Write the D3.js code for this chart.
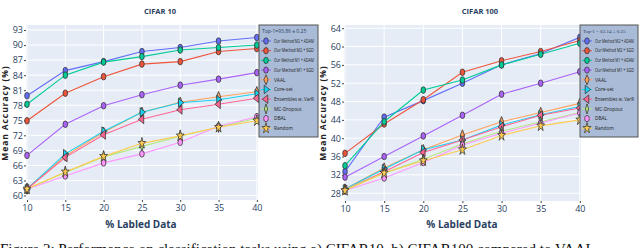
<!DOCTYPE html>
<html>
<head>
<meta charset="utf-8">
<script src="https://cdn.jsdelivr.net/npm/d3@7"></script>
<style>
  body { margin: 0; background: #fff; }
  svg { display: block; }
</style>
</head>
<body>
<div id="chart"></div>
<script>
const W = 640, H = 248;

const labeled = [10, 15, 20, 25, 30, 35, 40];
const methods = ['Our Method M2 + ADAM', 'Our Method M2 + SGD', 'Our Method M1 + ADAM', 'Our Method M1 + SGD',
  'VAAL', 'Core-set', 'Ensembles w. VarR', 'MC-Dropout', 'DBAL', 'Random'];
const colors = ['#636efa', '#ef553b', '#00cc96', '#ab63fa', '#ffa15a', '#19d3f3', '#ff6692', '#b6e880', '#ff97ff', '#fecb52'];
const shapes = ['circle', 'circle', 'circle', 'circle', 'diamond', 'tri-right', 'tri-left', 'thin-diamond', 'circle', 'star'];

// CIFAR 10
const cifar10 = [
  [79.9, 84.9, 86.7, 88.7, 89.5, 90.8, 91.5],
  [74.9, 80.4, 83.7, 86.2, 86.7, 88.7, 89.3],
  [78.2, 84.0, 86.6, 87.7, 89.0, 89.5, 90.0],
  [68.0, 74.2, 77.9, 80.1, 82.0, 83.2, 84.5],
  [61.3, 67.9, 72.6, 76.6, 78.6, 79.7, 80.7],
  [61.3, 68.3, 72.8, 76.6, 78.5, 79.1, 80.3],
  [61.3, 67.6, 72.1, 75.2, 77.1, 78.2, 79.4],
  [61.3, 64.6, 67.7, 69.8, 71.8, 73.6, 75.4],
  [61.3, 63.9, 66.5, 68.3, 70.6, 73.8, 75.7],
  [61.3, 64.7, 67.8, 70.4, 71.9, 73.6, 74.9]
];
const ticks10 = [60, 63, 66, 69, 72, 75, 78, 81, 84, 87, 90, 93];

// CIFAR 100
const cifar100 = [
  [32.7, 44.6, 48.2, 52.0, 56.0, 58.5, 62.0],
  [36.7, 43.1, 48.4, 54.4, 56.9, 58.9, 61.3],
  [34.0, 43.6, 50.5, 52.7, 56.0, 58.3, 60.7],
  [31.5, 36.0, 40.5, 45.0, 49.6, 52.0, 54.5],
  [28.9, 33.5, 37.5, 40.7, 43.6, 45.6, 47.6],
  [28.9, 33.3, 37.5, 39.6, 42.9, 45.1, 46.9],
  [28.8, 32.7, 36.9, 39.6, 42.5, 45.0, 46.6],
  [28.8, 32.4, 35.4, 38.8, 41.5, 43.6, 45.6],
  [28.6, 31.3, 34.7, 38.5, 41.1, 43.3, 45.5],
  [28.6, 32.4, 35.1, 37.5, 40.6, 42.7, 44.0]
];
const ticks100 = [28, 32, 36, 40, 44, 48, 52, 56, 60, 64];

const svg = d3.select('#chart').append('svg')
  .attr('width', W).attr('height', H);

function markerPath(shape) {
  if (shape === 'circle') return d3.symbol(d3.symbolCircle, 26)();
  if (shape === 'diamond') return d3.symbol(d3.symbolDiamond, 24)();
  if (shape === 'thin-diamond') return 'M0,-4.5L2,0L0,4.5L-2,0Z';
  if (shape === 'star') return d3.symbol(d3.symbolStar, 30)();
  return d3.symbol(d3.symbolTriangle, 26)();
}
function markerRotate(shape) {
  if (shape === 'tri-right') return 90;
  if (shape === 'tri-left') return -90;
  return 0;
}

// legend text, squeezed sideways if it would be wider than maxW
function legendText(parent, x, y, str, font, size, fill, maxW) {
  const tg = parent.append('g').attr('transform', `translate(${x},${y})`);
  const t = tg.append('text')
    .style('font-family', font).style('font-size', size)
    .attr('fill', fill)
    .text(str);
  const w = t.node().getComputedTextLength();
  if (w > maxW) tg.attr('transform', `translate(${x},${y}) scale(${maxW / w},1)`);
}

function drawPanel(opt) {
  const x = d3.scaleLinear().domain([9.87, 40.15]).range([opt.left, opt.right]);
  const y = d3.scaleLinear().domain(opt.yDomain).range([opt.bottom, opt.top]);
  const g = svg.append('g');

  g.append('rect')
    .attr('x', opt.left).attr('y', opt.top)
    .attr('width', opt.right - opt.left).attr('height', opt.bottom - opt.top)
    .attr('fill', '#e5ecf6');

  // grid
  g.selectAll('.gy').data(opt.ticks).enter().append('line')
    .attr('x1', opt.left).attr('x2', opt.right)
    .attr('y1', d => y(d)).attr('y2', d => y(d))
    .attr('stroke', '#fff').attr('stroke-width', 1);
  g.selectAll('.gx').data(labeled).enter().append('line')
    .attr('x1', d => x(d)).attr('x2', d => x(d))
    .attr('y1', opt.top).attr('y2', opt.bottom)
    .attr('stroke', '#fff').attr('stroke-width', 1);

  // axes
  const yAxis = g.append('g')
    .attr('transform', `translate(${opt.left},0)`)
    .call(d3.axisLeft(y).tickValues(opt.ticks).tickSize(2).tickPadding(1));
  const xAxis = g.append('g')
    .attr('transform', `translate(0,${opt.bottom})`)
    .call(d3.axisBottom(x).tickValues(labeled).tickSize(2).tickPadding(3));
  [xAxis, yAxis].forEach(a => {
    a.select('.domain').remove();
    a.selectAll('line').attr('stroke', '#444');
    a.selectAll('text').attr('fill', '#2a3f5f')
      .style('font-family', '"Open Sans", sans-serif').style('font-size', '9px');
  });

  // lines
  const line = d3.line().x((d, i) => x(labeled[i])).y(d => y(d));
  opt.data.forEach((s, k) => {
    g.append('path').datum(s)
      .attr('d', line)
      .attr('fill', 'none')
      .attr('stroke', colors[k]).attr('stroke-width', 1.1);
  });
  opt.data.forEach((s, k) => {
    g.selectAll(null).data(s).enter().append('path')
      .attr('d', markerPath(shapes[k]))
      .attr('transform', (d, i) => `translate(${x(labeled[i])},${y(d)}) scale(0.8,1.15) rotate(${markerRotate(shapes[k])})`)
      .attr('fill', colors[k])
      .attr('stroke', '#333').attr('stroke-width', 0.8);
  });

  // titles
  g.append('text')
    .attr('x', opt.titleX).attr('y', 14)
    .attr('text-anchor', 'middle')
    .style('font-family', '"Open Sans", sans-serif').style('font-size', '7.5px').style('font-weight', 'bold')
    .attr('fill', '#2a3f5f')
    .text(opt.title);
  g.append('text')
    .attr('x', opt.xLabelX).attr('y', 228)
    .attr('text-anchor', 'middle')
    .style('font-family', '"Open Sans", sans-serif').style('font-size', '10px').style('font-weight', 'bold')
    .attr('fill', '#2a3f5f')
    .text('% Labled Data');
  g.append('text')
    .attr('transform', `translate(${opt.yLabelX},${113}) rotate(-90)`)
    .attr('text-anchor', 'middle')
    .style('font-family', '"Open Sans", sans-serif').style('font-size', '8.5px').style('font-weight', 'bold')
    .style('letter-spacing', '0.9px')
    .attr('fill', '#222')
    .text('Mean Accuracy (%)');

  // legend
  const lg = g.append('g').attr('transform', `translate(${opt.legendX},25)`);
  lg.append('rect')
    .attr('width', opt.legendW).attr('height', 112)
    .attr('fill', '#a9bbd6').attr('stroke', '#555').attr('stroke-width', 1);
  legendText(lg, 3, 8, opt.header, opt.headerFont, '5px', '#2a3f5f', opt.legendW - 7);
  methods.forEach((m, k) => {
    const yy = 16 + k * 9.7;
    lg.append('line')
      .attr('x1', 2).attr('x2', 12).attr('y1', yy).attr('y2', yy)
      .attr('stroke', colors[k]).attr('stroke-width', 1.1);
    lg.append('path')
      .attr('d', markerPath(shapes[k]))
      .attr('transform', `translate(7,${yy}) scale(0.8,1.1) rotate(${markerRotate(shapes[k])})`)
      .attr('fill', colors[k]).attr('stroke', '#333').attr('stroke-width', 0.8);
    legendText(lg, 15, yy + 1.7, m, '"Open Sans", sans-serif', '4.8px', '#1a1a1a', opt.legendW - 19);
  });
}

drawPanel({
  left: 26, right: 258, top: 25, bottom: 200,
  yDomain: [59.1, 94.0], ticks: ticks10, data: cifar10,
  title: 'CIFAR 10', titleX: 160, xLabelX: 141, yLabelX: 8,
  legendX: 259, legendW: 59, header: 'Top-1=93.86 ± 0.25', headerFont: '"Open Sans", sans-serif'
});
drawPanel({
  left: 344, right: 581, top: 25, bottom: 201,
  yDomain: [26.3, 64.7], ticks: ticks100, data: cifar100,
  title: 'CIFAR 100', titleX: 480, xLabelX: 462, yLabelX: 326,
  legendX: 580, legendW: 58, header: 'Top-1 = 63.14 ± 0.25', headerFont: '"Liberation Serif", serif'
});

svg.append('text')
  .attr('x', 0).attr('y', 254)
  .style('font-family', '"Liberation Serif", serif').style('font-size', '15px')
  .attr('fill', '#111')
  .text('Figure 2: Performance on classification tasks using a) CIFAR10, b) CIFAR100 compared to VAAL');
</script>
</body>
</html>
